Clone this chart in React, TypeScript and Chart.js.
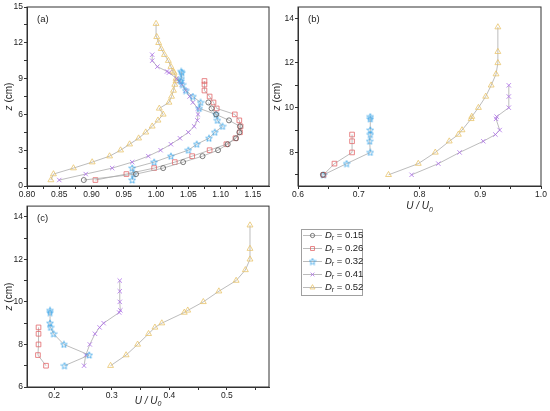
import React, { useEffect, useRef } from 'react';
import { Chart, registerables } from 'chart.js';
import { drawPoint } from 'chart.js/helpers';

Chart.register(...registerables);

const FONT = '"Liberation Sans", Arial, sans-serif';

// --- D_r values of the five series ---
const drValues = ['0.15', '0.26', '0.32', '0.41', '0.52'];

// --- panel (a): full profiles, z (cm) and U/U0 ---
const zA015 = [0.5, 1, 1.5, 2, 2.5, 3, 3.5, 4, 4.5, 5, 5.5, 6, 6.5, 7];
const uA015 = [0.888, 0.969, 1.011, 1.042, 1.072, 1.096, 1.111, 1.124, 1.129, 1.13, 1.113, 1.093, 1.086, 1.081];
const zA026 = [0.5, 1, 1.5, 2, 2.5, 3, 3.5, 4, 4.5, 5, 5.5, 6, 6.5, 7, 7.5, 8, 8.5, 8.8];
const uA026 = [0.906, 0.954, 0.997, 1.029, 1.056, 1.083, 1.109, 1.123, 1.13, 1.131, 1.129, 1.122, 1.094, 1.089, 1.083, 1.075, 1.075, 1.075];
const zA032 = [0.5, 1, 1.5, 2, 2.5, 3, 3.5, 4, 4.5, 5, 5.5, 6, 6.5, 7, 7.5, 8, 8.5, 8.8, 9, 9.5, 9.6];
const uA032 = [0.963, 0.965, 0.963, 0.997, 1.023, 1.05, 1.063, 1.082, 1.091, 1.103, 1.095, 1.093, 1.067, 1.069, 1.057, 1.046, 1.041, 1.038, 1.039, 1.04, 1.039];
const zA041 = [0.5, 1, 1.5, 2, 2.5, 3, 3.5, 4, 4.5, 5, 5.5, 6, 6.5, 7, 7.5, 8, 8.5, 8.8, 9, 9.5, 9.6, 10, 10.5, 11];
const uA041 = [0.85, 0.891, 0.932, 0.963, 0.988, 1.007, 1.023, 1.037, 1.05, 1.059, 1.064, 1.065, 1.065, 1.057, 1.052, 1.046, 1.04, 1.036, 1.032, 1.02, 1.017, 1.002, 0.994, 0.994];
const zA052 = [0.5, 1, 1.5, 2, 2.5, 3, 3.5, 4, 4.5, 5, 5.5, 6, 6.5, 7, 7.5, 8, 8.5, 8.8, 9, 9.5, 9.6, 10, 10.5, 11, 11.5, 12, 12.5, 13.6];
const uA052 = [0.837, 0.841, 0.872, 0.901, 0.928, 0.945, 0.959, 0.973, 0.984, 0.994, 1.003, 1.011, 1.005, 1.02, 1.024, 1.027, 1.029, 1.031, 1.031, 1.028, 1.026, 1.023, 1.019, 1.013, 1.008, 1.004, 1.001, 1.0];

// --- panels (b) and (c): upper part of the profiles ---
const zUp015 = [7];
const zUp026 = [7, 7.5, 8, 8.5, 8.8];
const zUp032 = [7, 7.5, 8, 8.5, 8.8, 9, 9.5, 9.6];
const zUp041 = [7, 7.5, 8, 8.5, 8.8, 9, 9.5, 9.6, 10, 10.5, 11];
const zUp052 = [7, 7.5, 8, 8.5, 8.8, 9, 9.5, 9.6, 10, 10.5, 11, 11.5, 12, 12.5, 13.6];

const uB015 = [0.641];
const uB026 = [0.642, 0.66, 0.689, 0.689, 0.689];
const uB032 = [0.642, 0.68, 0.719, 0.718, 0.719, 0.719, 0.719, 0.719];
const uB041 = [0.787, 0.831, 0.866, 0.905, 0.925, 0.932, 0.926, 0.927, 0.947, 0.947, 0.947];
const uB052 = [0.749, 0.798, 0.826, 0.849, 0.864, 0.87, 0.885, 0.886, 0.897, 0.909, 0.918, 0.926, 0.929, 0.929, 0.929];

const uC026 = [0.186, 0.172, 0.173, 0.173, 0.173];
const uC032 = [0.218, 0.261, 0.217, 0.199, 0.194, 0.193, 0.193, 0.193];
const uC041 = [0.252, 0.255, 0.262, 0.271, 0.279, 0.286, 0.313, 0.315, 0.314, 0.314, 0.314];
const uC052 = [0.298, 0.325, 0.345, 0.364, 0.375, 0.387, 0.426, 0.432, 0.459, 0.486, 0.516, 0.532, 0.54, 0.54, 0.54];

// --- tick values ---
const aXMajor = [0.8, 0.85, 0.9, 0.95, 1.0, 1.05, 1.1, 1.15];
const aXMinor = [0.825, 0.875, 0.925, 0.975, 1.025, 1.075, 1.125];
const aYMajor = [0, 3, 6, 9, 12, 15];
const aYMinor = [1.5, 4.5, 7.5, 10.5, 13.5];
const bXMajor = [0.6, 0.7, 0.8, 0.9, 1.0];
const bXMinor = [0.65, 0.75, 0.85, 0.95];
const bYMajor = [8, 10, 12, 14];
const bYMinor = [7, 9, 11, 13];
const cXMajor = [0.2, 0.3, 0.4, 0.5];
const cXMinor = [0.25, 0.35, 0.45, 0.55];
const cYMajor = [6, 8, 10, 12, 14];
const cYMinor = [7, 9, 11, 13];

// marker look per series
const markerColors = ['#5a5a5a', '#e2676a', '#3ea6e8', '#ad6fe8', '#e8c46c'];
const markerShapes = ['circle', 'rect', 'star', 'crossRot', 'triangle'];
const markerRadius = [2.5, 3.3, 0, 3.1, 3.4];
const LINE = '#ababab';

type Part = { t: string; it?: boolean; sub?: boolean };

const zTitle: Part[] = [{ t: 'z', it: true }, { t: ' (cm)' }];
const uTitle: Part[] = [{ t: 'U / U', it: true }, { t: '0', it: true, sub: true }];

function drawRich(ctx: CanvasRenderingContext2D, parts: Part[], x: number, y: number, size: number, center: boolean) {
  const fontOf = (p: Part) => `${p.it ? 'italic ' : ''}${p.sub ? size * 0.7 : size}px ${FONT}`;
  const widths = parts.map((p) => {
    ctx.font = fontOf(p);
    return ctx.measureText(p.t).width;
  });
  const total = widths.reduce((s, w) => s + w, 0);
  let cx = center ? x - total / 2 : x;
  ctx.textAlign = 'left';
  ctx.textBaseline = 'middle';
  parts.forEach((p, i) => {
    ctx.font = fontOf(p);
    ctx.fillText(p.t, cx, p.sub ? y + size * 0.32 : y);
    cx += widths[i];
  });
}

function makeStar(color: string) {
  const c = document.createElement('canvas');
  c.width = 8;
  c.height = 8;
  const g = c.getContext('2d')!;
  g.strokeStyle = color;
  g.lineWidth = 0.8;
  g.beginPath();
  for (let i = 0; i < 10; i++) {
    const r = i % 2 === 0 ? 3.5 : 1.5;
    const ang = -Math.PI / 2 + (i * Math.PI) / 5;
    const px = 4 + r * Math.cos(ang);
    const py = 4.3 + r * Math.sin(ang);
    if (i === 0) g.moveTo(px, py);
    else g.lineTo(px, py);
  }
  g.closePath();
  g.stroke();
  return c;
}

function pointStyles() {
  return markerShapes.map((s, i) => (s === 'star' ? makeStar(markerColors[i]) : s));
}

function makeDatasets(series: (number[][] | null)[], styles: any[]) {
  const sets: any[] = [];
  series.forEach((s, i) => {
    if (!s) return;
    const [u, z] = s;
    sets.push({
      label: 'Dr = ' + drValues[i],
      data: u.map((x, k) => ({ x, y: z[k] })),
      showLine: true,
      borderColor: LINE,
      borderWidth: 0.8,
      pointStyle: styles[i],
      pointRadius: markerRadius[i] || 3,
      pointHoverRadius: markerRadius[i] || 3,
      pointBorderColor: markerColors[i],
      pointBackgroundColor: 'rgba(255,255,255,0)',
      pointBorderWidth: 0.8,
    });
  });
  return sets;
}

function axis(min: number, max: number, major: number[], minor: number[], digits: number, size: number, isX: boolean) {
  const all = [...major, ...minor].sort((a, b) => a - b);
  return {
    type: 'linear',
    min,
    max,
    afterBuildTicks: (s: any) => {
      s.ticks = all.map((v) => ({ value: v }));
    },
    afterFit: (s: any) => {
      if (isX) s.height = size;
      else s.width = size;
    },
    ticks: {
      autoSkip: false,
      maxRotation: 0,
      padding: 1,
      color: '#222',
      font: { family: FONT, size: 8.5 },
      callback: (v: any) => (major.some((m) => Math.abs(m - v) < 1e-9) ? Number(v).toFixed(digits) : ''),
    },
    grid: { drawOnChartArea: false, drawTicks: true, tickLength: 3, tickColor: '#333', color: '#333' },
    border: { display: true, color: '#333', width: 1 },
  };
}

type Decor = { panel: string; yTitleX: number; xTitleY?: number; legend?: { x: number; y: number }; styles: any[] };

function makeDecor(d: Decor) {
  return {
    id: 'decor',
    afterDraw(chart: any) {
      const { ctx, chartArea: a } = chart;
      ctx.save();
      ctx.strokeStyle = '#333';
      ctx.lineWidth = 1;
      ctx.strokeRect(a.left, a.top, a.right - a.left, a.bottom - a.top);
      ctx.fillStyle = '#222';
      ctx.font = `9.5px ${FONT}`;
      ctx.textAlign = 'left';
      ctx.textBaseline = 'middle';
      ctx.fillText(d.panel, a.left + 10, a.top + 12);
      if (d.xTitleY) drawRich(ctx, uTitle, (a.left + a.right) / 2, d.xTitleY, 10, true);
      ctx.save();
      ctx.translate(d.yTitleX, (a.top + a.bottom) / 2);
      ctx.rotate(-Math.PI / 2);
      drawRich(ctx, zTitle, 0, 0, 10, true);
      ctx.restore();
      if (d.legend) {
        const { x, y } = d.legend;
        ctx.strokeStyle = '#a0a0a0';
        ctx.lineWidth = 1;
        ctx.strokeRect(x + 0.5, y + 0.5, 61, 66);
        drValues.forEach((v, i) => {
          const ry = y + 6.5 + i * 13;
          ctx.strokeStyle = LINE;
          ctx.lineWidth = 0.8;
          ctx.beginPath();
          ctx.moveTo(x + 2, ry);
          ctx.lineTo(x + 21, ry);
          ctx.stroke();
          ctx.strokeStyle = markerColors[i];
          ctx.fillStyle = 'rgba(255,255,255,0)';
          ctx.lineWidth = 0.8;
          drawPoint(ctx, { pointStyle: d.styles[i], radius: (markerRadius[i] || 3) * 0.85, borderWidth: 0.8, rotation: 0 } as any, x + 11.5, ry);
          ctx.fillStyle = '#222';
          drawRich(ctx, [{ t: 'D', it: true }, { t: 'r', it: true, sub: true }, { t: ' = ' + v }], x + 24, ry, 9.5, false);
        });
      }
      ctx.restore();
    },
  };
}

function baseConfig(datasets: any[], scales: any, padding: any, decor: any) {
  return {
    type: 'scatter',
    data: { datasets },
    options: {
      responsive: false,
      animation: false,
      events: [],
      layout: { padding },
      plugins: { legend: { display: false }, tooltip: { enabled: false } },
      scales,
    },
    plugins: [decor],
  };
}

function configA() {
  const styles = pointStyles();
  const sets = makeDatasets(
    [
      [uA015, zA015],
      [uA026, zA026],
      [uA032, zA032],
      [uA041, zA041],
      [uA052, zA052],
    ],
    styles
  );
  return baseConfig(
    sets,
    { x: axis(0.8, 1.175, aXMajor, aXMinor, 2, 14, true), y: axis(0, 15, aYMajor, aYMinor, 0, 27, false) },
    { top: 7, right: 6, left: 0, bottom: 0 },
    makeDecor({ panel: '(a)', yTitleX: 9, styles })
  );
}

function configB() {
  const styles = pointStyles();
  const sets = makeDatasets(
    [
      [uB015, zUp015],
      [uB026, zUp026],
      [uB032, zUp032],
      [uB041, zUp041],
      [uB052, zUp052],
    ],
    styles
  );
  return baseConfig(
    sets,
    { x: axis(0.6, 1.0, bXMajor, bXMinor, 1, 29, true), y: axis(6.5, 14.5, bYMajor, bYMinor, 0, 26, false) },
    { top: 7, right: 9, left: 0, bottom: 0 },
    makeDecor({ panel: '(b)', yTitleX: 5, xTitleY: 206.5, styles })
  );
}

function configC() {
  const styles = pointStyles();
  const sets = makeDatasets(
    [null, [uC026, zUp026], [uC032, zUp032], [uC041, zUp041], [uC052, zUp052]],
    styles
  );
  return baseConfig(
    sets,
    { x: axis(0.153, 0.573, cXMajor, cXMinor, 1, 24, true), y: axis(6, 14.5, cYMajor, cYMinor, 0, 27, false) },
    { top: 6, right: 101, left: 0, bottom: 0 },
    makeDecor({ panel: '(c)', yTitleX: 9, xTitleY: 201, legend: { x: 301, y: 29 }, styles })
  );
}

function Panel({ left, top, width, height, make }: { left: number; top: number; width: number; height: number; make: () => any }) {
  const ref = useRef<HTMLCanvasElement>(null);
  useEffect(() => {
    if (!ref.current) return;
    const chart = new Chart(ref.current, make());
    return () => chart.destroy();
  }, []);
  return (
    <div style={{ position: 'absolute', left, top, width, height }}>
      <canvas ref={ref} width={width} height={height} style={{ width, height, display: 'block' }} />
    </div>
  );
}

export default function App() {
  return (
    <div style={{ position: 'absolute', left: 0, top: 0, width: 550, height: 411, background: '#fff', overflow: 'hidden' }}>
      <Panel left={0} top={0} width={275} height={200} make={configA} />
      <Panel left={272} top={0} width={278} height={215} make={configB} />
      <Panel left={0} top={200} width={370} height={211} make={configC} />
    </div>
  );
}
